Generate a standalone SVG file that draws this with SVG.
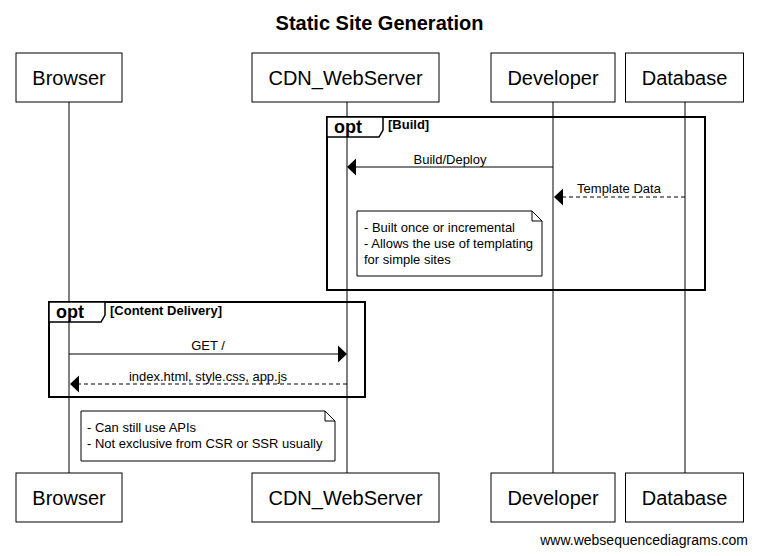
<svg xmlns="http://www.w3.org/2000/svg" width="759" height="556" viewBox="0 0 759 556">
<style>
text{font-family:"Liberation Sans",Arial,sans-serif;fill:#000}
.title{font-size:20px;font-weight:bold}
.pt{font-size:20px}
.msg{font-size:13px}
.fr{font-size:13px;font-weight:bold}
.opt{font-size:18px;font-weight:bold}
.box{fill:#fff;stroke:#000;stroke-width:1}
.life{stroke:#000;stroke-width:1}
.frame{fill:none;stroke:#000;stroke-width:2}
.tab{fill:#fff;stroke:#000;stroke-width:1.5}
.solid{stroke:#000;stroke-width:1;fill:none}
.dash{stroke:#000;stroke-width:1;fill:none;stroke-dasharray:4,3}
.head{fill:#000}
.note{fill:#fff;stroke:#000;stroke-width:1}
</style>
<rect width="759" height="556" fill="#fff"/>
<text class="title" x="379.5" y="30" text-anchor="middle">Static Site Generation</text>
<g id="lifelines">
<line class="life" x1="69" y1="102" x2="69" y2="473"/>
<line class="life" x1="347" y1="102" x2="347" y2="473"/>
<line class="life" x1="553" y1="102" x2="553" y2="473"/>
<line class="life" x1="685" y1="102" x2="685" y2="473"/>
</g>
<g id="frame-build">
<rect class="frame" x="327" y="117" width="378" height="173"/>
<path class="tab" d="M327,117 H383 V130 L379,137 H327 Z"/>
<text class="opt" x="334" y="133">opt</text>
<text class="fr" x="388" y="129">[Build]</text>
</g>
<g id="frame-content">
<rect class="frame" x="49" y="302" width="316" height="95"/>
<path class="tab" d="M49,302 H105 V315 L101,322 H49 Z"/>
<text class="opt" x="56" y="318">opt</text>
<text class="fr" x="110" y="315">[Content Delivery]</text>
</g>
<g id="connectors">
<line class="solid" x1="553" y1="167" x2="355" y2="167"/>
<polygon class="head" points="347,167 356,158.5 356,175.5"/>
<text class="msg" x="450" y="164" text-anchor="middle">Build/Deploy</text>
<line class="dash" x1="685" y1="197" x2="562" y2="197"/>
<polygon class="head" points="554,197 563,188.5 563,205.5"/>
<text class="msg" x="619" y="193" text-anchor="middle">Template Data</text>
<line class="solid" x1="69" y1="354" x2="338" y2="354"/>
<polygon class="head" points="347,354 338,345.5 338,362.5"/>
<text class="msg" x="208" y="350" text-anchor="middle">GET /</text>
<line class="dash" x1="347" y1="384" x2="78" y2="384"/>
<polygon class="head" points="70,384 79,375.5 79,392.5"/>
<text class="msg" x="208" y="381" text-anchor="middle">index.html, style.css, app.js</text>
</g>
<g id="note-build">
<path class="note" d="M357,211 H532 L542,221 V276 H357 Z"/>
<path class="solid" d="M532,211 V221 H542"/>
<text class="msg" x="364" y="232">- Built once or incremental</text>
<text class="msg" x="364" y="248">- Allows the use of templating</text>
<text class="msg" x="364" y="264">for simple sites</text>
</g>
<g id="note-delivery">
<path class="note" d="M81,411 H325 L335,421 V461 H81 Z"/>
<path class="solid" d="M325,411 V421 H335"/>
<text class="msg" x="87" y="432">- Can still use APIs</text>
<text class="msg" x="87" y="448">- Not exclusive from CSR or SSR usually</text>
</g>
<g id="browser-top"><rect class="box" x="16" y="53" width="106" height="49"/><text class="pt" x="69" y="85" text-anchor="middle">Browser</text></g>
<g id="cdn-top"><rect class="box" x="252" y="53" width="187" height="49"/><text class="pt" x="345.5" y="85" text-anchor="middle">CDN_WebServer</text></g>
<g id="developer-top"><rect class="box" x="491" y="53" width="124" height="49"/><text class="pt" x="553" y="85" text-anchor="middle">Developer</text></g>
<g id="database-top"><rect class="box" x="625.5" y="53" width="118" height="49"/><text class="pt" x="684.5" y="85" text-anchor="middle">Database</text></g>
<g id="browser-bottom"><rect class="box" x="16" y="473" width="106" height="49"/><text class="pt" x="69" y="505" text-anchor="middle">Browser</text></g>
<g id="cdn-bottom"><rect class="box" x="252" y="473" width="187" height="49"/><text class="pt" x="345.5" y="505" text-anchor="middle">CDN_WebServer</text></g>
<g id="developer-bottom"><rect class="box" x="491" y="473" width="124" height="49"/><text class="pt" x="553" y="505" text-anchor="middle">Developer</text></g>
<g id="database-bottom"><rect class="box" x="625.5" y="473" width="118" height="49"/><text class="pt" x="684.5" y="505" text-anchor="middle">Database</text></g>
<text x="748" y="545" text-anchor="end" font-size="14">www.websequencediagrams.com</text>
</svg>
